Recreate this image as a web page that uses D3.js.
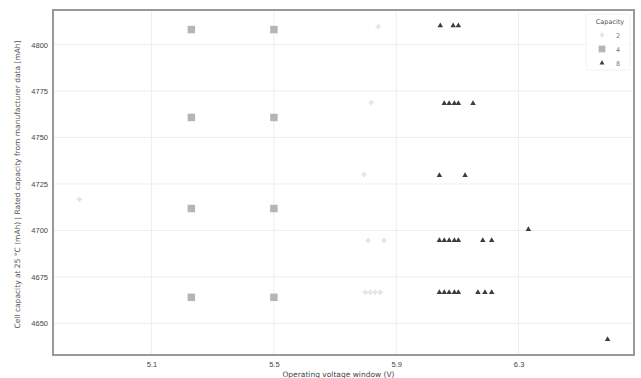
<!DOCTYPE html>
<html>
<head>
<meta charset="utf-8">
<script src="https://cdn.jsdelivr.net/npm/d3@7"></script>
<style>
  html, body { margin: 0; padding: 0; background: #fff; }
  svg { display: block; font-family: "DejaVu Sans", sans-serif; }
</style>
</head>
<body>
<svg id="chart" width="641" height="378"></svg>
<script>
// Tick labels
const xTicks = [5.1, 5.5, 5.9, 6.3];
const yTicks = [4650, 4675, 4700, 4725, 4750, 4775, 4800];

// Series: capacity groups and their (x, y) readings
const groups = ["2", "4", "8"];

const lowX = [5.841, 5.818, 5.795, 4.864, 5.808, 5.860, 5.799, 5.815, 5.831, 5.847];
const lowY = [4809.7, 4768.8, 4730.1, 4716.7, 4694.6, 4694.6, 4666.7, 4666.7, 4666.7, 4666.7];

const midX = [5.23, 5.50, 5.23, 5.50, 5.23, 5.50, 5.23, 5.50];
const midY = [4808.1, 4808.1, 4760.8, 4760.8, 4711.8, 4711.8, 4664.0, 4664.0];

const highX = [6.044, 6.086, 6.103,
               6.057, 6.073, 6.090, 6.103, 6.151,
               6.041, 6.125,
               6.332,
               6.041, 6.057, 6.073, 6.090, 6.103, 6.183, 6.212,
               6.041, 6.057, 6.073, 6.090, 6.103, 6.167, 6.190, 6.212,
               6.591];
const highY = [4810.2, 4810.2, 4810.2,
               4768.3, 4768.3, 4768.3, 4768.3, 4768.3,
               4729.6, 4729.6,
               4700.5,
               4694.6, 4694.6, 4694.6, 4694.6, 4694.6, 4694.6, 4694.6,
               4666.7, 4666.7, 4666.7, 4666.7, 4666.7, 4666.7, 4666.7, 4666.7,
               4641.4];

const series = [
  { name: groups[0], xs: lowX, ys: lowY, symbol: d3.symbolCross, size: 16, color: "#e3e3e3" },
  { name: groups[1], xs: midX, ys: midY, symbol: d3.symbolSquare, size: 56, color: "#b5b5b5" },
  { name: groups[2], xs: highX, ys: highY, symbol: d3.symbolTriangle, size: 13, color: "#3c3c3c" }
];

const svg = d3.select("#chart");
const margin = { left: 53, right: 7, top: 10, bottom: 23 };
const W = 641, H = 378;
const pw = W - margin.left - margin.right;
const ph = H - margin.top - margin.bottom;

// Padded data extents (5% on each side)
const allX = series.flatMap(s => s.xs);
const allY = series.flatMap(s => s.ys);
function padded(vals) {
  const [a, b] = d3.extent(vals);
  const p = (b - a) * 0.05;
  return [a - p, b + p];
}
const x = d3.scaleLinear().domain(padded(allX)).range([margin.left, margin.left + pw]);
const y = d3.scaleLinear().domain(padded(allY)).range([margin.top + ph, margin.top]);

// Grid
const grid = svg.append("g");
grid.selectAll("line.gx").data(xTicks).join("line")
  .attr("x1", d => x(d)).attr("x2", d => x(d))
  .attr("y1", margin.top).attr("y2", margin.top + ph)
  .attr("stroke", "#eeeeee").attr("stroke-width", 1);
grid.selectAll("line.gy").data(yTicks).join("line")
  .attr("y1", d => y(d)).attr("y2", d => y(d))
  .attr("x1", margin.left).attr("x2", margin.left + pw)
  .attr("stroke", "#eeeeee").attr("stroke-width", 1);

// Axes
const xAxis = d3.axisBottom(x).tickValues(xTicks).tickFormat(d3.format(".1f")).tickSize(0).tickPadding(7);
const yAxis = d3.axisLeft(y).tickValues(yTicks).tickFormat(d3.format("d")).tickSize(0).tickPadding(5);
const gx = svg.append("g").attr("transform", `translate(0,${margin.top + ph})`).call(xAxis);
const gy = svg.append("g").attr("transform", `translate(${margin.left},0)`).call(yAxis);
[gx, gy].forEach(g => {
  g.select(".domain").remove();
  g.selectAll("text").attr("font-size", 7.5).attr("fill", "#444");
});

// Frame
svg.append("rect")
  .attr("x", margin.left).attr("y", margin.top)
  .attr("width", pw).attr("height", ph)
  .attr("fill", "none").attr("stroke", "#999").attr("stroke-width", 2);

// Points
series.forEach(s => {
  const sym = d3.symbol().type(s.symbol).size(s.size);
  svg.append("g").selectAll("path").data(d3.range(s.xs.length)).join("path")
    .attr("transform", i => `translate(${x(s.xs[i])},${y(s.ys[i])})`)
    .attr("d", sym)
    .attr("fill", s.color);
});

// Axis titles
svg.append("text")
  .attr("x", margin.left + pw / 2 - 5).attr("y", H - 1)
  .attr("text-anchor", "middle").attr("font-size", 7.5).attr("fill", "#444")
  .text("Operating voltage window (V)");
svg.append("text")
  .attr("transform", `translate(20,${margin.top + ph / 2 + 2}) rotate(-90)`)
  .attr("text-anchor", "middle").attr("font-size", 7.5).attr("fill", "#555")
  .text("Cell capacity at 25 °C (mAh) | Rated capacity from manufacturer data [mAh]");

// Legend
const lg = svg.append("g").attr("transform", "translate(586,14)");
lg.append("rect").attr("width", 44).attr("height", 56).attr("rx", 2)
  .attr("fill", "#fff").attr("fill-opacity", 0.8).attr("stroke", "#f2f2f2");
lg.append("text").attr("x", 24).attr("y", 10).attr("text-anchor", "middle")
  .attr("font-size", 6.5).attr("fill", "#555").text("Capacity");
series.forEach((s, i) => {
  const yy = 21 + i * 14;
  lg.append("path")
    .attr("transform", `translate(16,${yy})`)
    .attr("d", d3.symbol().type(s.symbol).size(s.size * 0.8)())
    .attr("fill", s.color);
  lg.append("text").attr("x", 30).attr("y", yy + 2.5)
    .attr("font-size", 6.5).attr("fill", "#777").text(s.name);
});
</script>
</body>
</html>
